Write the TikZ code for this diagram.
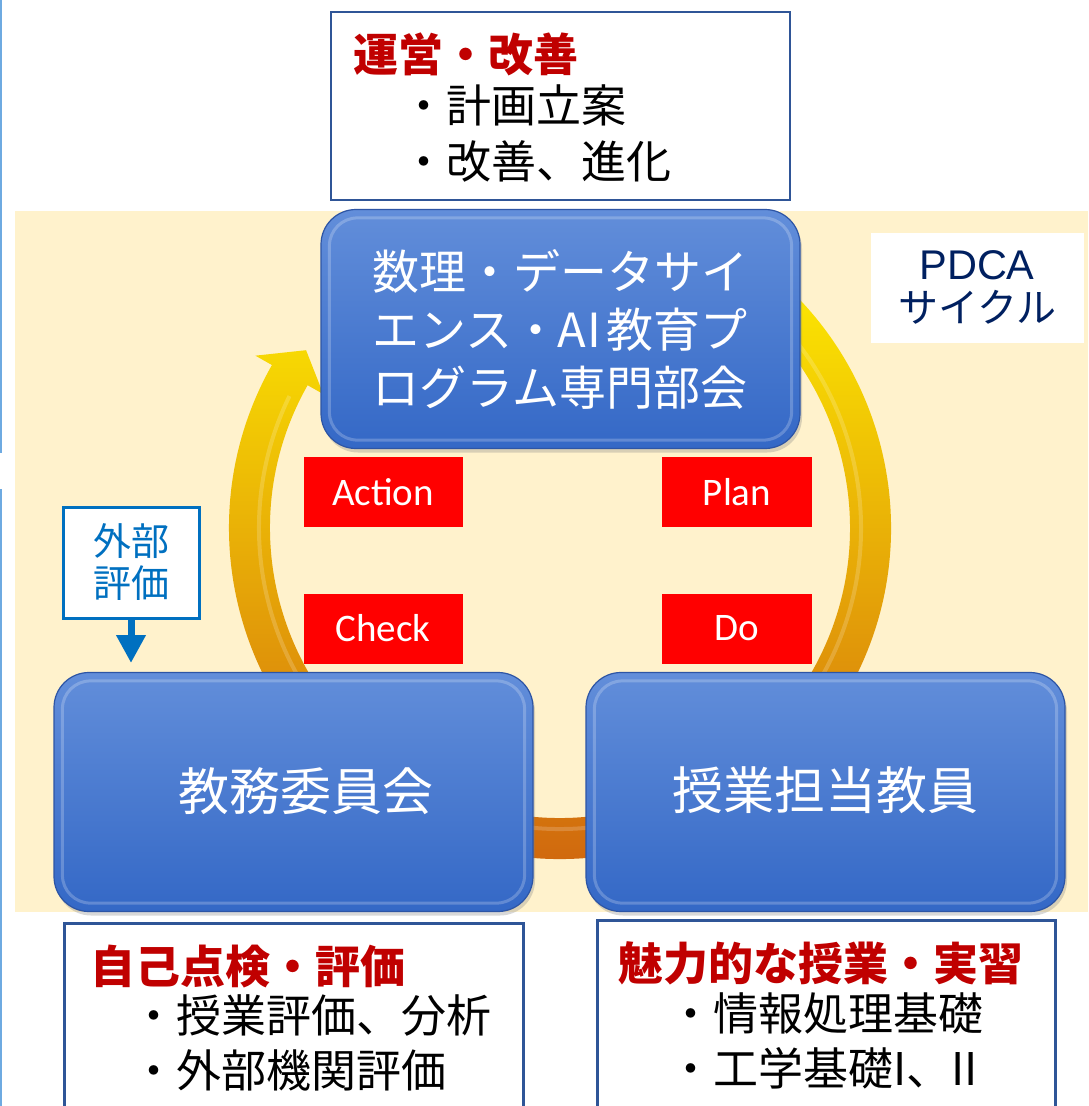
\documentclass[tikz,border=0pt]{standalone}
\usepackage{fontspec}
\newfontfamily\cjk{Noto Sans CJK JP}
\newfontfamily\calfont{Carlito}
\newfontfamily\arialfont{Liberation Sans}
\usetikzlibrary{arrows.meta,shadows,calc}
\definecolor{beige}{RGB}{255,242,204}
\definecolor{navy}{RGB}{0,32,96}
\definecolor{frame}{RGB}{47,85,151}
\definecolor{titlered}{RGB}{192,0,0}
\definecolor{gblue}{RGB}{0,112,192}
\definecolor{btop}{RGB}{98,142,218}
\definecolor{bbot}{RGB}{52,104,198}
\definecolor{bedge}{RGB}{45,85,165}
\definecolor{ringtop}{RGB}{255,240,0}
\definecolor{ringmid}{RGB}{240,190,0}
\definecolor{ringbot}{RGB}{205,95,15}
\definecolor{sideline}{RGB}{110,170,225}
\begin{document}
\begin{tikzpicture}[x=1pt,y=-1pt,
  bluebox/.style={rounded corners=35pt, minimum width=479pt, minimum height=239pt,
    top color=btop, bottom color=bbot, draw=bedge, line width=1.2pt,
    drop shadow={shadow xshift=2pt, shadow yshift=-4pt, opacity=0.3}},
  bluetext/.style={text=white, inner sep=0pt, align=center},
  bevel/.style={draw=white, opacity=0.22, line width=3pt, rounded corners=28pt},
  pdcalabel/.style={fill=red, text=white, font=\calfont\fontsize{39}{46}\selectfont,
    minimum height=70pt, inner sep=0pt},
  whitebox/.style={draw=frame, line width=2.5pt, fill=white, inner sep=0pt},
  textline/.style={anchor=west, inner sep=0pt, font=\cjk\fontsize{45}{50}\selectfont},
  titleline/.style={anchor=west, inner sep=0pt, text=titlered,
    font=\cjk\bfseries\fontsize{45}{50}\selectfont}]
\useasboundingbox (0,0) rectangle (1088,1106);
\clip (0,0) rectangle (1088,1106);
\fill[white] (0,0) rectangle (1088,1106);
\draw[sideline, line width=2pt] (1,0) -- (1,453);
\draw[sideline, line width=2pt] (1,489) -- (1,1106);
\fill[beige] (15,211) rectangle (1088,912);

% PDCA ring arrow
\coordinate (C) at (560,528);
\shade[top color=ringtop, middle color=ringmid, bottom color=ringbot]
  ($(C)+(-60:331)$) arc[start angle=-60, end angle=209.5, radius=331]
  -- ($(C)+(209.5:350)$) -- ($(C)+(215:310)$) -- ($(C)+(209.5:272)$) -- ($(C)+(209.5:290)$)
  arc[start angle=209.5, end angle=-60, radius=290] -- cycle;
\draw[white, opacity=0.18, line width=4pt] ($(C)+(-55:301)$) arc[start angle=-55, end angle=206, radius=301];

% blue boxes
\node[bluebox] (bu) at (560.5,329) {};
\draw[bevel] ([shift={(9,9)}]bu.north west) rectangle ([shift={(-9,-9)}]bu.south east);
\node[bluetext, font=\cjk\fontsize{47}{58}\selectfont] (buT) at (560,329)
  {数理・データサイ\\エンス・\makebox[0.5em]{A}\makebox[0.5em]{I}教育プ\\ログラム専門部会};

\node[bluebox] (kyomu) at (293.5,792) {};
\draw[bevel] ([shift={(9,9)}]kyomu.north west) rectangle ([shift={(-9,-9)}]kyomu.south east);
\node[bluetext, font=\cjk\fontsize{51}{60}\selectfont] (kyomuT) at (306,791) {教務委員会};

\node[bluebox] (jugyo) at (825.5,792) {};
\draw[bevel] ([shift={(9,9)}]jugyo.north west) rectangle ([shift={(-9,-9)}]jugyo.south east);
\node[bluetext, font=\cjk\fontsize{51}{60}\selectfont] (jugyoT) at (825,790) {授業担当教員};

% PDCA labels
\node[pdcalabel, minimum width=159pt] (action) at (383,492) {Action};
\node[pdcalabel, minimum width=150pt] (plan) at (737,492) {Plan};
\node[pdcalabel, minimum width=159pt] (check) at (383,628.5) {Check};
\node[pdcalabel, minimum width=150pt] (do) at (737,628.5) {Do};

% PDCA cycle box
\node[fill=white, minimum width=213pt, minimum height=110pt, inner sep=0pt] (pdca) at (977.5,288) {};
\node[text=navy, inner sep=0pt, font=\arialfont\fontsize{41.5}{46}\selectfont] (pdcaA) at (977,265) {PDCA};
\node[text=navy, inner sep=0pt, font=\cjk\fontsize{40}{46}\selectfont] (pdcaB) at (977,307) {サイクル};

% external evaluation
\node[draw=gblue, line width=3pt, fill=white, minimum width=136pt, minimum height=111pt,
  text=gblue, align=center, font=\cjk\fontsize{38}{42}\selectfont, inner sep=0pt] (gaibu) at (131,562.5) {外部\\評価};
\coordinate (gtip) at (131,663);
\draw[gblue, line width=7pt, -{Triangle[width=28pt,length=28pt]}] (gaibu.south) -- (gtip);

% white text boxes
\node[whitebox, minimum width=459pt, minimum height=188pt] (unei) at (560.5,106) {};
\node[titleline] (ueiT) at (353,54) {運営・改善};
\node[textline] (unei1) at (401,105) {・計画立案};
\node[textline] (unei2) at (401,161) {・改善、進化};

\node[whitebox, minimum width=459pt, minimum height=220pt, anchor=north west] (jiko) at (63,922) {};
\node[titleline] (jikoT) at (90,966) {自己点検・評価};
\node[textline] (jiko1) at (131,1015) {・授業評価、分析};
\node[textline] (jiko2) at (131,1070) {・外部機関評価};

\node[whitebox, minimum width=458pt, minimum height=220pt, anchor=north west] (miryoku) at (596,919) {};
\node[titleline] (miryokuT) at (618,963) {魅力的な授業・実習};
\node[textline] (miryoku1) at (668,1013) {・情報処理基礎};
\node[textline] (miryoku2) at (668,1068) {・工学基礎I、II};
\end{tikzpicture}
\end{document}
